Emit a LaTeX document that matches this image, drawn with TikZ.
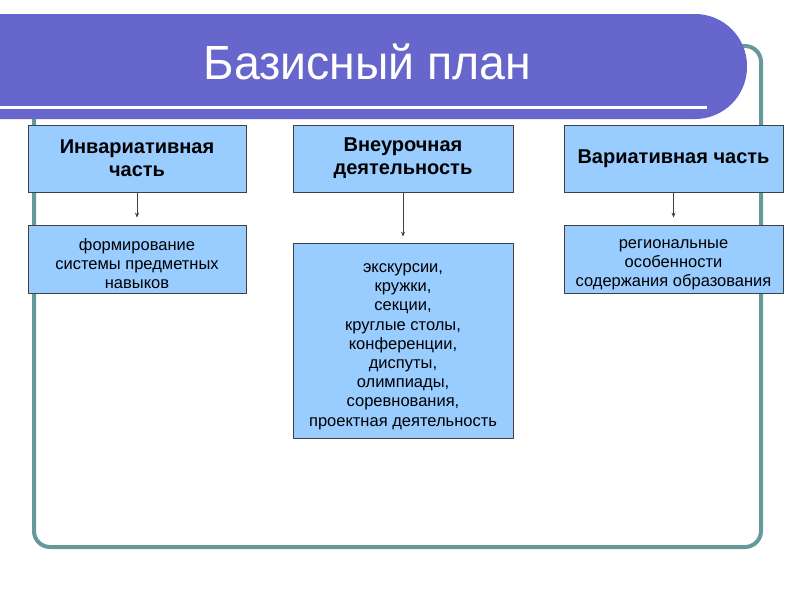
\documentclass[tikz,border=0pt]{standalone}
\usepackage{fontspec}
\setmainfont{Liberation Sans}
\usetikzlibrary{arrows.meta}
\definecolor{bandeau}{HTML}{6666CC}
\definecolor{cadre}{HTML}{669999}
\definecolor{boite}{HTML}{99CCFF}
\definecolor{trait}{HTML}{404040}
\newcommand{\haut}{\rule{0pt}{21pt}}
\begin{document}
\begin{tikzpicture}[x=1pt, y=-1pt]
\tikzset{titre/.style={draw=trait, fill=boite, line width=0.8pt, align=center, font=\fontsize{20}{23}\selectfont\bfseries, minimum height=67pt, inner sep=0pt},
         liste/.style={draw=trait, fill=boite, line width=0.8pt, align=center, font=\fontsize{16.5}{19.2}\selectfont, inner sep=0pt},
         fleche/.style={draw=trait, line width=0.7pt, -{Stealth[length=5pt, width=4pt]}}}
\useasboundingbox (0, 0) rectangle (800, 600);
\fill[white] (0, 0) rectangle (800, 600);
\draw[cadre, line width=4pt, rounded corners=16pt] (34, 46) rectangle (761, 547);
\fill[bandeau, rounded corners=52pt] (-60, 14) rectangle (747, 119);
\draw[white, line width=3pt] (0, 107) -- (707, 107);
\node[text=white, font=\fontsize{48}{52}\selectfont, xscale=0.967, anchor=base] (T) at (367.5, 79) {Базисный план};
\node[titre, minimum width=218pt] (A) at (137, 158.5) {Инвариативная\\часть};
\node[titre, minimum width=220pt] (B) at (403, 158.5) {Внеурочная\\деятельность};
\node[titre, minimum width=219pt] (C) at (673.5, 158.5) {Вариативная часть};
\node[liste, minimum width=218pt, minimum height=68pt] (A2) at (137, 259) {\haut формирование\\системы предметных\\навыков};
\node[liste, minimum width=220pt, minimum height=195pt] (B2) at (403, 340.5) {\haut экскурсии,\\кружки,\\секции,\\круглые столы,\\конференции,\\диспуты,\\олимпиады,\\соревнования,\\проектная деятельность};
\node[liste, minimum width=219pt, minimum height=68pt] (C2) at (673.5, 259) {\haut региональные\\особенности\\содержания образования};
\draw[fleche, shorten >=7pt] (A) -- (A2);
\draw[fleche, shorten >=6pt] (B) -- (B2);
\draw[fleche, shorten >=7pt] (C) -- (C2);
\end{tikzpicture}
\end{document}
